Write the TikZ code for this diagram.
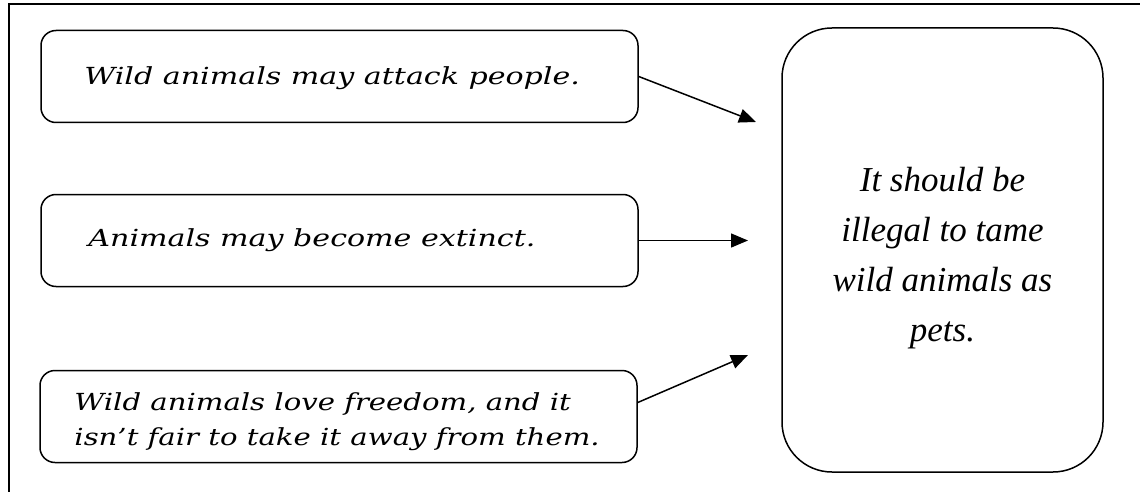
\documentclass[tikz,border=0pt]{standalone}
\usepackage{fontspec}
\setmainfont{Liberation Serif}
\newfontfamily\hand[FakeStretch=1.28]{DejaVu Serif}
\newfontfamily\handnarrow[FakeStretch=1.24]{DejaVu Serif}
\usetikzlibrary{arrows.meta}
\begin{document}
\begin{tikzpicture}[x=1pt,y=-1pt,
  frame/.style={line width=2.4pt},
  side/.style={draw,line width=1.5pt,rounded corners=15pt,minimum width=597pt,minimum height=92pt,inner sep=0pt},
  handtxt/.style={inner sep=0pt,anchor=west,align=left,font=\hand\itshape\fontsize{23.5}{35}\selectfont},
  handtxtb/.style={inner sep=0pt,anchor=west,align=left,font=\handnarrow\itshape\fontsize{23.5}{35}\selectfont},
  claim/.style={draw,line width=1.5pt,rounded corners=50pt,minimum width=321pt,minimum height=444pt,inner sep=0pt},
  claimtxt/.style={align=center,inner sep=0pt,font=\itshape\fontsize{35}{50}\selectfont},
  arr/.style={line width=1.5pt,-{Triangle[length=17pt,width=14pt]}}]
\useasboundingbox (0,0) rectangle (1140,492);
\draw[frame] (9,492) -- (9,4) -- (1140,4);
\node[side] (b1) at (339.5,76.5) {};
\node[side] (b2) at (339.5,240.5) {};
\node[side] (b3) at (338.5,416.5) {};
\node[handtxt] (t1) at ([xshift=44pt,yshift=-2pt]b1.west) {Wild animals may attack people.};
\node[handtxt] (t2) at ([xshift=48pt]b2.west) {Animals may become extinct.};
\node[handtxtb] (t3) at ([xshift=35pt,yshift=-5pt]b3.west) {Wild animals love freedom, and it\\isn’t fair to take it away from them.};
\node[claim] (c) at (942.5,250) {};
\node[claimtxt] (ct) at (942.5,258) {It should be\\illegal to tame\\wild animals as\\pets.};
\coordinate (e1) at (756,122);
\coordinate (e2) at (748,240.5);
\coordinate (e3) at (748,355);
\draw[arr] (b1.east) -- (e1);
\draw[arr] (b2.east) -- (e2);
\draw[arr] ([yshift=14pt]b3.east) -- (e3);
\end{tikzpicture}
\end{document}
